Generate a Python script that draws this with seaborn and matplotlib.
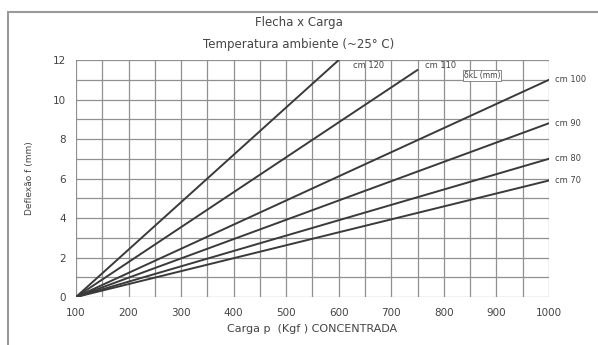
import numpy as np
import pandas as pd
import matplotlib
matplotlib.use("Agg")
import matplotlib.pyplot as plt
import seaborn as sns

# span labels and end points of each line (all start at 100 kgf, 0 mm)
spans = ["cm 120", "cm 110", "cm 100", "cm 90", "cm 80", "cm 70"]
load_start = [100, 100, 100, 100, 100, 100]
defl_start = [0, 0, 0, 0, 0, 0]
load_end = [600, 750, 1000, 1000, 1000, 1000]
defl_end = [12.0, 11.5, 11.0, 8.8, 7.0, 5.9]

x_ticks = [100, 200, 300, 400, 500, 600, 700, 800, 900, 1000]
y_ticks = [0, 2, 4, 6, 8, 10, 12]

rows = []
for s, x0, y0, x1, y1 in zip(spans, load_start, defl_start, load_end, defl_end):
    rows.append({"span": s, "carga": x0, "flecha": y0})
    rows.append({"span": s, "carga": x1, "flecha": y1})
df = pd.DataFrame(rows)

sns.set_style("white")
plt.rcParams['font.family'] = ['DejaVu Sans']
txt = "#444444"

fig = plt.figure(figsize=(5.98, 3.45), dpi=100)
ax = fig.add_axes([0.127, 0.139, 0.791, 0.687])

# grid
for gx in np.arange(100, 1001, 50):
    ax.axvline(gx, color="#909090", lw=0.9, zorder=0)
for gy in np.arange(0, 13, 1):
    ax.axhline(gy, color="#909090", lw=0.9, zorder=0)

sns.lineplot(data=df, x="carga", y="flecha", units="span", estimator=None,
             color="#3a3a3a", lw=1.4, ax=ax, legend=False)

ax.set_xlim(100, 1000)
ax.set_ylim(0, 12)
ax.set_xticks(x_ticks)
ax.set_yticks(y_ticks)
ax.set_yticks(np.arange(1, 12, 2), minor=True)
ax.tick_params(axis="both", labelsize=7.5, colors=txt, length=4, width=0.8, pad=3)
ax.tick_params(axis="y", which="minor", length=4, width=0.8, colors="#909090")
ax.tick_params(axis="x", length=0, pad=8)
for sp in ax.spines.values():
    sp.set_visible(False)

ax.set_xlabel("Carga p  (Kgf ) CONCENTRADA", fontsize=8, color=txt, labelpad=4)
ax.set_ylabel("Deflexão f (mm)", fontsize=6.5, color=txt, labelpad=14)

# line labels
ax.text(627, 11.7, "cm 120", fontsize=6, color=txt, va="center")
ax.text(765, 11.7, "cm 110", fontsize=6, color=txt, va="center")
ax.text(838, 11.2, "δkL (mm)", fontsize=5.5, color=txt, va="center",
        bbox=dict(boxstyle="square,pad=0.15", fc="white", ec="#777777", lw=0.6))
for s, y1, x1 in zip(spans, defl_end, load_end):
    if x1 == 1000:
        ax.text(1012, y1, s, fontsize=6, color=txt, va="center", clip_on=False)

fig.text(0.5, 0.935, "Flecha x Carga", fontsize=8.5, color=txt, ha="center", va="center")
fig.text(0.5, 0.872, "Temperatura ambiente (~25° C)", fontsize=8.5, color=txt,
         ha="center", va="center")

# outer frame
fig.add_artist(plt.Rectangle((0.014, -0.01), 1.0, 0.975, transform=fig.transFigure,
                             fill=False, ec="#9a9a9a", lw=1.5))

fig.savefig("out.png", dpi=100)
